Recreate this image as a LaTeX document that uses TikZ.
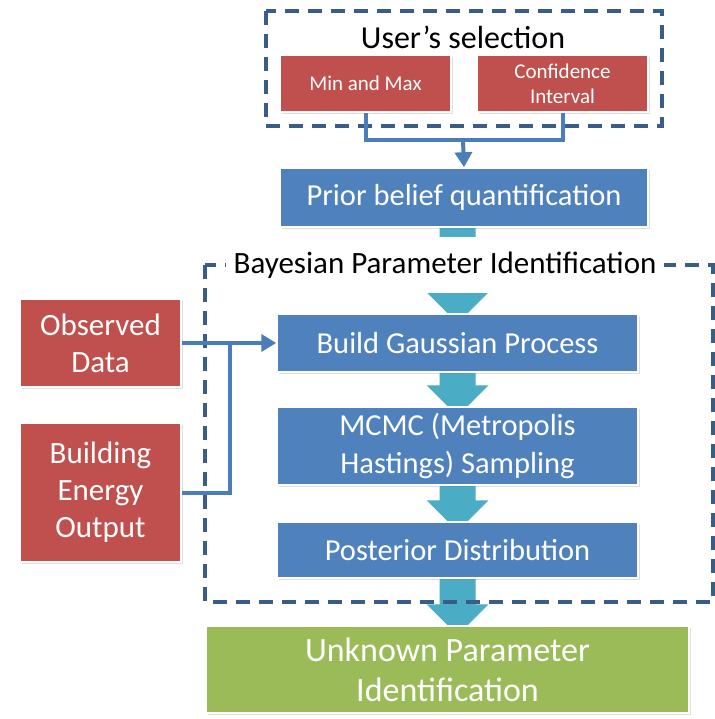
\documentclass[tikz,border=0pt]{standalone}
\usepackage{fontspec}
\setmainfont{Carlito}
\usetikzlibrary{arrows.meta,calc,shadows,backgrounds}
\definecolor{boxred}{RGB}{192,80,77}
\definecolor{boxblue}{RGB}{79,129,189}
\definecolor{boxgreen}{RGB}{155,187,89}
\definecolor{flowteal}{RGB}{75,172,198}
\definecolor{dashblue}{RGB}{56,93,138}
\definecolor{linkblue}{RGB}{74,126,187}

% teal block arrow from one box down to the next
\newcommand{\flowarrow}[2]{%
  \fill[flow] ($(#1.south -| build)+(-18,0)$) -- ($(#2.north -| build)+(-18,-21)$) -- ++(-13,0)
    -- ($(#2.north -| build)+(0,10)$) -- ($(#2.north -| build)+(31,-21)$) -- ++(-13,0)
    -- ($(#1.south -| build)+(18,0)$) -- cycle;}

\begin{document}
\begin{tikzpicture}[x=1pt, y=-1pt]
	\tikzset{
		box/.style={rectangle, inner sep=0pt, text=white, align=center, font=\fontsize{30.5}{38}\selectfont,
			draw=white, line width=1.5pt, drop shadow={shadow xshift=2pt, shadow yshift=-2pt, opacity=0.25}},
		redbox/.style={box, fill=boxred},
		bluebox/.style={box, fill=boxblue},
		greenbox/.style={box, fill=boxgreen, font=\fontsize{34}{40}\selectfont},
		dashbox/.style={draw=dashblue, line width=3.5pt, dash pattern=on 14pt off 9pt},
		link/.style={draw=linkblue, line width=4pt},
		flow/.style={fill=flowteal},
		caption/.style={font=\fontsize{31}{34}\selectfont, fill=white, inner xsep=8pt, minimum height=56pt}
	}
	\useasboundingbox (0,0) rectangle (714,719);

	% user's selection
	\draw[dashbox] (266,11) rectangle (662,126);
	\node[font=\fontsize{32}{34}\selectfont] (seltitle) at (463,37) {User’s selection};
	\node[redbox, minimum width=171pt, minimum height=57pt, font=\fontsize{21}{25}\selectfont] (minmax) at (365.5,83.5) {Min and Max};
	\node[redbox, minimum width=171pt, minimum height=57pt, font=\fontsize{21}{25}\selectfont] (confint) at (562.5,83.5) {Confidence\\Interval};
	\node[bluebox, minimum width=368pt, minimum height=59pt] (prior) at (464,197.5) {Prior belief quantification};

	% bayesian part
	\draw[dashbox] (205,265) rectangle (713,602);
	\node[bluebox, minimum width=361pt, minimum height=58pt] (build) at (457.5,343) {Build Gaussian Process};
	\node[bluebox, minimum width=361pt, minimum height=78pt] (mcmc) at (457.5,446) {MCMC (Metropolis\\Hastings) Sampling};
	\node[bluebox, minimum width=361pt, minimum height=56pt] (post) at (457.5,550) {Posterior Distribution};
	\node[greenbox, minimum width=483pt, minimum height=87pt] (unknown) at (447.5,669.5) {Unknown Parameter\\Identification};

	% inputs
	\node[redbox, minimum width=161pt, minimum height=88pt, font=\fontsize{31}{37}\selectfont] (obs) at (100.5,343) {Observed\\Data};
	\node[redbox, minimum width=161pt, minimum height=139pt, font=\fontsize{31}{37}\selectfont] (bldg) at (100.5,492.5) {Building\\Energy\\Output};

	\begin{scope}[on background layer]
		\fill[white] (0,0) rectangle (714,719);
		\flowarrow{prior}{build}
		\flowarrow{build}{mcmc}
		\flowarrow{mcmc}{post}
		\flowarrow{post}{unknown}
	\end{scope}
	\node[caption] (bayestitle) at (445,265) {Bayesian Parameter Identification};

	% connectors
	\coordinate (join) at (463,140);
	\coordinate (merge) at (230,343);
	\draw[link] (minmax.south) |- (join);
	\draw[link] (confint.south) |- (join);
	\draw[link, -{Triangle[width=17pt, length=15pt]}] (join) -- (prior.north);
	\draw[link, -{Triangle[width=17pt, length=15pt]}] (obs.east) -- (build.west);
	\draw[link] (bldg.east) -| (merge);
\end{tikzpicture}
\end{document}
